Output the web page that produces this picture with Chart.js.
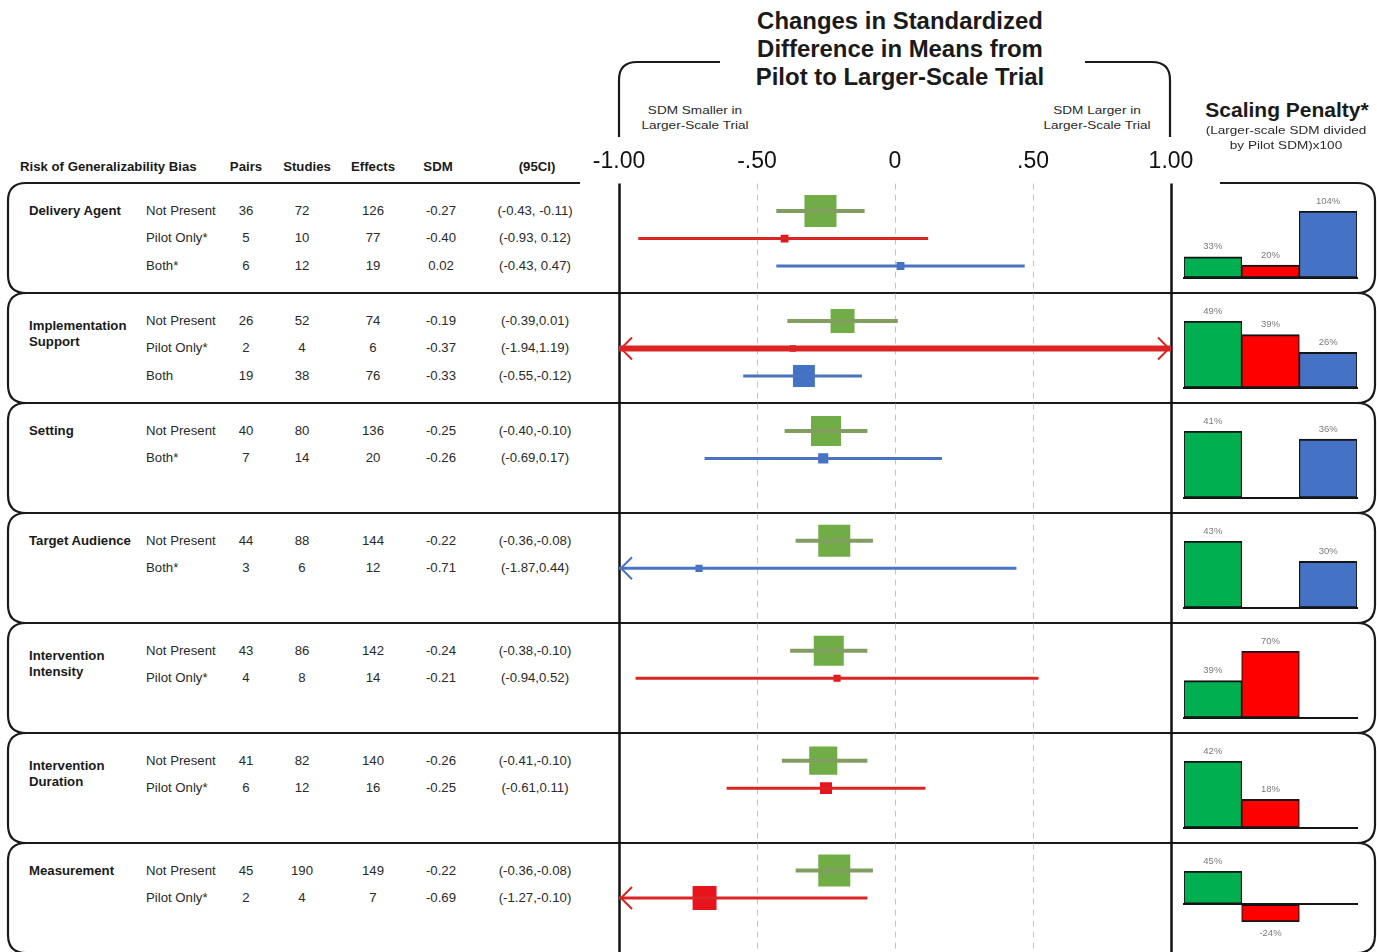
<!DOCTYPE html>
<html>
<head>
<meta charset="utf-8">
<script src="https://cdn.jsdelivr.net/npm/chart.js@4/dist/chart.umd.min.js"></script>
<style>
html, body { margin: 0; padding: 0; background: #fff; overflow: hidden; }
body { width: 1377px; height: 952px; position: relative; font-family: "Liberation Sans", Arial, sans-serif; color: #2a2a2a; }
.t { position: absolute; white-space: nowrap; font-size: 13.2px; line-height: 16px; }
.b { font-weight: bold; color: #1a1a1a; }
canvas { position: absolute; }
svg { position: absolute; left: 0; top: 0; }
</style>
</head>
<body>
<svg id="frame" width="1377" height="952"><path id="framePath" fill="none" stroke="#1a1a1a" stroke-width="2.2"/></svg>
<canvas id="forest" width="630" height="813" style="left:580px;top:140px"></canvas>
<div id="bars"></div>
<div id="text"></div>
<script>
// table / forest data
const groupNames = ['Delivery Agent', 'Implementation\nSupport', 'Setting', 'Target Audience', 'Intervention\nIntensity', 'Intervention\nDuration', 'Measurement'];
const rowGroup = [0, 0, 0, 1, 1, 1, 2, 2, 3, 3, 4, 4, 5, 5, 6, 6];
const rowLevel = ['Not Present', 'Pilot Only*', 'Both*', 'Not Present', 'Pilot Only*', 'Both', 'Not Present', 'Both*',
  'Not Present', 'Both*', 'Not Present', 'Pilot Only*', 'Not Present', 'Pilot Only*', 'Not Present', 'Pilot Only*'];
const pairs = [36, 5, 6, 26, 2, 19, 40, 7, 44, 3, 43, 4, 41, 6, 45, 2];
const studies = [72, 10, 12, 52, 4, 38, 80, 14, 88, 6, 86, 8, 82, 12, 190, 4];
const effects = [126, 77, 19, 74, 6, 76, 136, 20, 144, 12, 142, 14, 140, 16, 149, 7];
const sdm = [-0.27, -0.40, 0.02, -0.19, -0.37, -0.33, -0.25, -0.26, -0.22, -0.71, -0.24, -0.21, -0.26, -0.25, -0.22, -0.69];
const ciLow = [-0.43, -0.93, -0.43, -0.39, -1.94, -0.55, -0.40, -0.69, -0.36, -1.87, -0.38, -0.94, -0.41, -0.61, -0.36, -1.27];
const ciHigh = [-0.11, 0.12, 0.47, 0.01, 1.19, -0.12, -0.10, 0.17, -0.08, 0.44, -0.10, 0.52, -0.10, 0.11, -0.08, -0.10];
const ciText = ['(-0.43, -0.11)', '(-0.93, 0.12)', '(-0.43, 0.47)', '(-0.39,0.01)', '(-1.94,1.19)', '(-0.55,-0.12)',
  '(-0.40,-0.10)', '(-0.69,0.17)', '(-0.36,-0.08)', '(-1.87,0.44)', '(-0.38,-0.10)', '(-0.94,0.52)',
  '(-0.41,-0.10)', '(-0.61,0.11)', '(-0.36,-0.08)', '(-1.27,-0.10)'];
// relative weight of each estimate (square area, largest = 100), read off the squares
const squareWeight = [100, 6, 6, 56, 4, 47, 88, 10, 100, 5, 88, 5, 77, 14, 100, 56];
const xTickLabels = ['-1.00', '-.50', '0', '.50', '1.00'];
const tableHeaders = ['Risk of Generalizability Bias', 'Pairs', 'Studies', 'Effects', 'SDM', '(95CI)'];

// scaling penalty data
const penaltyCats = ['Not Present', 'Pilot Only', 'Both'];
const penaltyNotPresent = [33, 49, 41, 43, 39, 42, 45];
const penaltyPilotOnly = [20, 39, null, null, 70, 18, -24];
const penaltyBoth = [104, 26, 36, 30, null, null, null];

const BOX_TOP = 183, BOX_H = 110, SLOT = BOX_H / 4;
const nGroups = groupNames.length;
const slotIndex = rowGroup.map((g, i) => i - rowGroup.indexOf(g));
const rowPos = rowGroup.map((g, i) => g * 4 + slotIndex[i] + 1);
const rowY = rowPos.map(p => BOX_TOP + p * SLOT);
const levelKind = rowLevel.map(l => l.startsWith('Not') ? 0 : l.startsWith('Pilot') ? 1 : 2);

const lineColors = ['#819e60', '#db2424', '#4a73c2'];
const markColors = ['#70ad47', '#e8141c', '#4472c4'];
const barColors = ['#00b050', '#ff0000', '#4472c4'];

// frame: rounded boxes and title bracket
(function () {
  const R = 18, L = 8, RIGHT = 1375;
  let d = '';
  for (let g = 0; g < nGroups; g++) {
    const t = BOX_TOP + g * BOX_H, b = t + BOX_H;
    d += `M${L + R},${t} Q${L},${t} ${L},${t + R} L${L},${b - R} Q${L},${b} ${L + R},${b} `;
    d += `M${RIGHT - R},${t} Q${RIGHT},${t} ${RIGHT},${t + R} L${RIGHT},${b - R} Q${RIGHT},${b} ${RIGHT - R},${b} `;
    d += `M${L + R},${b} L${RIGHT - R},${b} `;
  }
  d += `M${L + R},${BOX_TOP} L580,${BOX_TOP} M1220,${BOX_TOP} L${RIGHT - R},${BOX_TOP} `;
  d += 'M619,137 L619,80 Q619,62 637,62 L720,62 M1085,62 L1152,62 Q1170,62 1170,80 L1170,137';
  document.getElementById('framePath').setAttribute('d', d);
})();

// text
const textBox = document.getElementById('text');
function put(html, x, y, align, cls, style, sx) {
  const el = document.createElement('div');
  el.className = 't' + (cls ? ' ' + cls : '');
  el.innerHTML = html;
  el.style.left = x + 'px';
  el.style.top = y + 'px';
  if (style) el.style.cssText += style;
  el.style.transform = (align === 'center' ? 'translate(-50%,-50%)' : 'translate(0,-50%)') + (sx ? ` scaleX(${sx})` : '');
  if (align === 'center') el.style.textAlign = 'center';
  textBox.appendChild(el);
}
const cols = [246, 302, 373, 441, 535];
put(tableHeaders[0], 20, 167, 'left', 'b', 'transform-origin:0 50%;');
[246, 307, 373, 438, 537].forEach((x, j) => put(tableHeaders[j + 1], x, 167, 'center', 'b'));
rowGroup.forEach((g, i) => {
  put(rowLevel[i], 146, rowY[i], 'left');
  [pairs[i], studies[i], effects[i], sdm[i].toFixed(2), ciText[i]].forEach((v, j) => put(String(v), cols[j], rowY[i], 'center'));
});
groupNames.forEach((name, g) => {
  const first = rowGroup.indexOf(g);
  const lines = name.split('\n');
  const y = lines.length > 1 ? (rowY[first] + rowY[first + 1]) / 2 : rowY[first];
  put(lines.join('<br>'), 29, y, 'left', 'b');
});
put('Changes in Standardized<br>Difference in Means from<br>Pilot to Larger-Scale Trial', 900, 49, 'center', 'b', 'font-size:23px;line-height:28px;', 1.04);
put('SDM Smaller in<br>Larger-Scale Trial', 695, 118, 'center', '', 'font-size:11.5px;line-height:15px;', 1.18);
put('SDM Larger in<br>Larger-Scale Trial', 1097, 118, 'center', '', 'font-size:11.5px;line-height:15px;', 1.18);
put('Scaling Penalty*', 1287, 110, 'center', 'b', 'font-size:20px;line-height:22px;', 1.05);
put('(Larger-scale SDM divided<br>by Pilot SDM)x100', 1286, 138, 'center', '', 'font-size:11.5px;line-height:15px;', 1.18);

// forest plot
const forestLines = {
  id: 'forestLines',
  beforeDatasetsDraw(chart) {
    const ctx = chart.ctx, a = chart.chartArea, xs = chart.scales.x;
    ctx.save();
    xs.ticks.forEach(t => {
      const px = Math.round(xs.getPixelForValue(t.value)) + 0.5;
      const edge = Math.abs(t.value) === 1;
      ctx.beginPath();
      ctx.setLineDash(edge ? [] : [6, 5]);
      ctx.strokeStyle = edge ? '#111' : '#c4c4c4';
      ctx.lineWidth = edge ? 2.5 : 1;
      ctx.moveTo(px, a.top);
      ctx.lineTo(px, a.bottom);
      ctx.stroke();
    });
    ctx.restore();
  },
  afterDatasetsDraw(chart) {
    const ctx = chart.ctx, xs = chart.scales.x, ys = chart.scales.y;
    ctx.save();
    ctx.lineWidth = 2;
    rowPos.forEach((p, i) => {
      const y = ys.getPixelForValue(p);
      ctx.strokeStyle = lineColors[levelKind[i]];
      if (ciLow[i] < xs.min) {
        const x = xs.getPixelForValue(xs.min) + 2;
        ctx.beginPath(); ctx.moveTo(x + 11, y - 11); ctx.lineTo(x, y); ctx.lineTo(x + 11, y + 11); ctx.stroke();
      }
      if (ciHigh[i] > xs.max) {
        const x = xs.getPixelForValue(xs.max) - 2;
        ctx.beginPath(); ctx.moveTo(x - 11, y - 11); ctx.lineTo(x, y); ctx.lineTo(x - 11, y + 11); ctx.stroke();
      }
    });
    ctx.restore();
  }
};

const ciSets = sdm.map((v, i) => ({
  data: [{ x: ciLow[i], y: rowPos[i] }, { x: ciHigh[i], y: rowPos[i] }],
  showLine: true,
  pointRadius: 0,
  pointHoverRadius: 0,
  borderColor: lineColors[levelKind[i]],
  borderWidth: (ciLow[i] < -1 && ciHigh[i] > 1) ? 6 : levelKind[i] === 0 ? 4 : 3
}));
const squares = {
  data: sdm.map((v, i) => ({ x: v, y: rowPos[i] })),
  pointStyle: 'rect',
  pointRadius: squareWeight.map(w => 16 * Math.sqrt(w / 100) * Math.SQRT2),
  pointHoverRadius: squareWeight.map(w => 16 * Math.sqrt(w / 100) * Math.SQRT2),
  pointBackgroundColor: levelKind.map(k => markColors[k]),
  pointBorderWidth: 0
};

new Chart(document.getElementById('forest').getContext('2d'), {
  type: 'scatter',
  data: { datasets: ciSets.concat([squares]) },
  options: {
    responsive: false,
    animation: false,
    layout: { autoPadding: false, padding: { left: 39, right: 39, top: 0, bottom: 0 } },
    plugins: { legend: { display: false }, tooltip: { enabled: false } },
    scales: {
      x: {
        type: 'linear', position: 'top', min: -1, max: 1,
        ticks: { stepSize: 0.5, padding: 8, maxRotation: 0, color: '#111',
          font: { family: '"Liberation Sans", Arial', size: 23 },
          callback: (v, i) => xTickLabels[i] },
        grid: { display: false, drawTicks: false },
        border: { display: false }
      },
      y: { type: 'linear', display: false, min: 0, max: nGroups * 4, reverse: true }
    }
  },
  plugins: [forestLines]
});

// scaling penalty bars
const valueLabels = {
  id: 'valueLabels',
  afterDatasetsDraw(chart) {
    const ctx = chart.ctx, vals = chart.data.datasets[0].data;
    ctx.save();
    ctx.font = '9.5px "Liberation Sans", Arial';
    ctx.fillStyle = '#7a7a7a';
    ctx.textAlign = 'center';
    ctx.textBaseline = 'middle';
    chart.getDatasetMeta(0).data.forEach((bar, i) => {
      const v = vals[i];
      if (v === null) return;
      ctx.fillText(v + '%', bar.x, v >= 0 ? bar.y - 10 : bar.y + 11);
    });
    ctx.restore();
  }
};

penaltyNotPresent.forEach((np, g) => {
  const vals = [np, penaltyPilotOnly[g], penaltyBoth[g]];
  const nums = vals.filter(v => v !== null);
  const lo = Math.min(0, ...nums);
  const c = document.createElement('canvas');
  c.width = 190; c.height = 98;
  c.style.left = '1176px';
  c.style.top = (BOX_TOP + g * BOX_H + 8) + 'px';
  document.getElementById('bars').appendChild(c);
  new Chart(c.getContext('2d'), {
    type: 'bar',
    data: {
      labels: penaltyCats,
      datasets: [{
        data: vals,
        backgroundColor: barColors,
        borderColor: '#151515',
        borderWidth: { top: 2, bottom: 2, left: 1.2, right: 1.2 },
        borderSkipped: false,
        categoryPercentage: 1,
        barPercentage: 1
      }]
    },
    options: {
      responsive: false,
      animation: false,
      layout: { autoPadding: false, padding: { left: 8, right: 9, top: 20, bottom: lo < 0 ? 27 : 11 } },
      plugins: { legend: { display: false }, tooltip: { enabled: false } },
      scales: {
        x: { position: { y: 0 }, ticks: { display: false }, grid: { display: false, drawTicks: false },
          border: { display: true, color: '#151515', width: 2 } },
        y: { display: false, min: lo, max: Math.max(...nums) }
      }
    },
    plugins: [valueLabels]
  });
});
</script>
</body>
</html>
